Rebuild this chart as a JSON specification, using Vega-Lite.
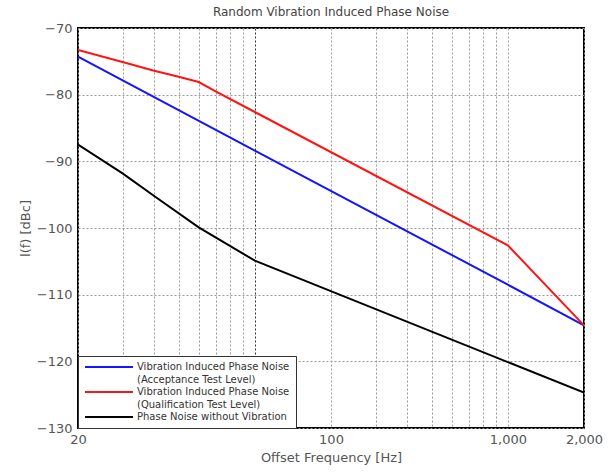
{
  "$schema": "https://vega.github.io/schema/vega-lite/v6.json",
  "width": 506,
  "height": 400,
  "autosize": {"type": "none"},
  "padding": {"left": 78, "top": 28, "right": 30, "bottom": 44},
  "background": "white",
  "title": {"text": "Random Vibration Induced Phase Noise", "fontSize": 12, "font": "DejaVu Sans", "fontWeight": "normal", "color": "#444", "offset": 3, "anchor": "middle"},
  "config": {
    "view": {"stroke": "black", "strokeWidth": 2},
    "font": "DejaVu Sans",
    "style": {"guide-label": {"lineHeight": 13}}
  },
  "data": {"values": [
    {"series": "A", "f": 20, "db": -74.3},
    {"series": "A", "f": 100, "db": -88.4},
    {"series": "A", "f": 1000, "db": -108.5},
    {"series": "A", "f": 2000, "db": -114.6},
    {"series": "Q", "f": 20, "db": -73.3},
    {"series": "Q", "f": 30, "db": -75.1},
    {"series": "Q", "f": 40, "db": -76.4},
    {"series": "Q", "f": 50, "db": -77.3},
    {"series": "Q", "f": 60, "db": -78.1},
    {"series": "Q", "f": 70, "db": -79.5},
    {"series": "Q", "f": 100, "db": -82.6},
    {"series": "Q", "f": 1000, "db": -102.6},
    {"series": "Q", "f": 2000, "db": -114.6},
    {"series": "N", "f": 20, "db": -87.5},
    {"series": "N", "f": 30, "db": -91.8},
    {"series": "N", "f": 40, "db": -95.2},
    {"series": "N", "f": 60, "db": -99.9},
    {"series": "N", "f": 100, "db": -104.9},
    {"series": "N", "f": 2000, "db": -124.7}
  ]},
  "mark": {"type": "line", "strokeWidth": 2, "clip": true},
  "encoding": {
    "x": {
      "field": "f", "type": "quantitative",
      "scale": {"type": "log", "domain": [20, 2000], "nice": false},
      "axis": {
        "title": "Offset Frequency [Hz]",
        "values": [20, 30, 40, 50, 60, 70, 80, 90, 100, 200, 300, 400, 500, 600, 700, 800, 900, 1000, 2000],
        "labelExpr": "datum.value == 20 ? '20' : datum.value == 200 ? '100' : datum.value == 1000 ? '1,000' : datum.value == 2000 ? '2,000' : ''",
        "labelOverlap": false,
        "labelFlush": false,
        "ticks": false,
        "domain": false,
        "grid": true,
        "gridDash": [2, 2],
        "gridColor": {"condition": {"test": "datum.value == 100", "value": "#333"}, "value": "#999"},
        "labelFont": "DejaVu Sans", "labelFontSize": 13, "labelColor": "#555", "labelPadding": 5,
        "titleFont": "DejaVu Sans", "titleFontSize": 13, "titleFontWeight": "normal", "titleColor": "#555", "titlePadding": 5
      }
    },
    "y": {
      "field": "db", "type": "quantitative",
      "scale": {"domain": [-130, -70], "nice": false},
      "axis": {
        "title": "l(f) [dBc]",
        "values": [-130, -120, -110, -100, -90, -80, -70],
        "ticks": false,
        "domain": false,
        "grid": true,
        "gridDash": [2, 2],
        "gridColor": "#999",
        "labelFont": "DejaVu Sans", "labelFontSize": 13, "labelColor": "#555", "labelPadding": 6,
        "titleFont": "DejaVu Sans", "titleFontSize": 13, "titleFontWeight": "normal", "titleColor": "#555", "titlePadding": 4
      }
    },
    "color": {
      "field": "series", "type": "nominal",
      "scale": {"domain": ["A", "Q", "N"], "range": ["#1414ff", "#ff1414", "#000000"]},
      "legend": {
        "title": null,
        "orient": "bottom-left",
        "offset": 0,
        "labelExpr": "datum.value == 'A' ? ['Vibration Induced Phase Noise', '(Acceptance Test Level)'] : datum.value == 'Q' ? ['Vibration Induced Phase Noise', '(Qualification Test Level)'] : 'Phase Noise without Vibration'",
        "labelFont": "DejaVu Sans", "labelFontSize": 10, "labelColor": "#333", "labelLimit": 300,
        "labelBaseline": "middle",
        "symbolType": "M-1,0H11", "symbolSize": 64, "symbolStrokeWidth": 2,
        "labelOffset": 43, "padding": 6, "rowPadding": 2,
        "fillColor": "white", "strokeColor": "#333"
      }
    },
    "order": {"field": "f", "type": "quantitative"}
  }
}
